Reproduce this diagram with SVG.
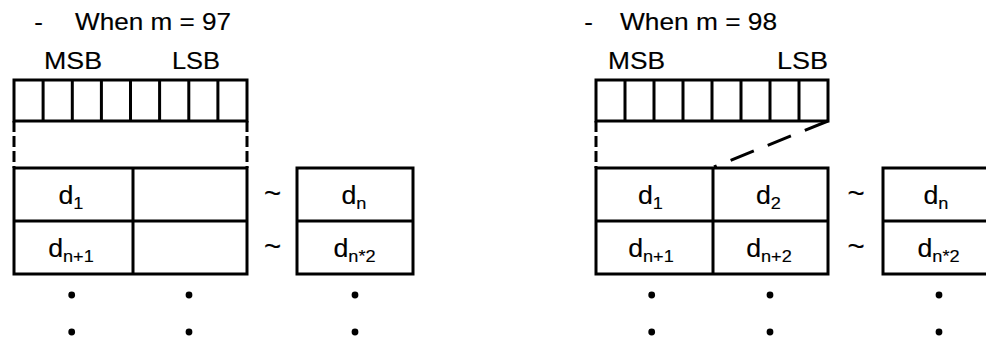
<svg xmlns="http://www.w3.org/2000/svg" width="986" height="340" viewBox="0 0 986 340">
  <style>
    .box { fill: #ffffff; stroke: #000000; stroke-width: 3; }
    .ln { fill: none; stroke: #000000; stroke-width: 3; }
    .dash { fill: none; stroke: #000000; stroke-width: 3; stroke-dasharray: 11 4; }
    .diag { fill: none; stroke: #000000; stroke-width: 3; stroke-dasharray: 25 15; }
    .t { font-family: "Liberation Sans", Arial, sans-serif; font-size: 24px; fill: #000000; stroke: #000000; stroke-width: 0.15; }
    .lbl { font-family: "Liberation Sans", Arial, sans-serif; font-size: 25px; fill: #000000; stroke: #000000; stroke-width: 0.15; }
    .sub { font-size: 17px; }
    .tl { font-family: "Liberation Sans", Arial, sans-serif; font-size: 28px; fill: #000000; stroke: #000000; stroke-width: 0.2; }
    .dot { fill: #000000; }
  </style>
  <rect width="986" height="340" fill="#ffffff"/>

  <!-- Case m = 97 -->
  <g id="title-97">
    <text class="t" text-anchor="middle" transform="translate(38.5,30) scale(1.08,1)">-</text>
    <text class="t" transform="translate(75,30)" textLength="156" lengthAdjust="spacingAndGlyphs">When m = 97</text>
  </g>
  <g id="bits-97">
    <text class="t" transform="translate(44,69)" textLength="58" lengthAdjust="spacingAndGlyphs">MSB</text>
    <text class="t" transform="translate(172,69)" textLength="48" lengthAdjust="spacingAndGlyphs">LSB</text>
    <rect class="box" x="14" y="80" width="233" height="41"/>
    <path class="ln" d="M43.1 80V121M72.3 80V121M101.4 80V121M130.5 80V121M159.6 80V121M188.8 80V121M217.9 80V121"/>
  </g>
  <g id="row-97">
    <rect class="box" x="14" y="168" width="233" height="106"/>
    <path class="ln" d="M14 221H247M133 168V274"/>
    <text class="lbl" text-anchor="middle" transform="translate(71,204) scale(1.07,1)">d<tspan class="sub" dy="5">1</tspan></text>
    <text class="lbl" text-anchor="middle" transform="translate(71,257) scale(1.07,1)">d<tspan class="sub" dy="5">n+1</tspan></text>
  </g>
  <g id="tilde-97">
    <text class="tl" text-anchor="middle" transform="translate(272.5,203) scale(1.05,1)">~</text>
    <text class="tl" text-anchor="middle" transform="translate(272.5,256) scale(1.05,1)">~</text>
  </g>
  <g id="last-97">
    <rect class="box" x="297" y="168" width="116" height="106"/>
    <path class="ln" d="M297 221H413"/>
    <text class="lbl" text-anchor="middle" transform="translate(354,204) scale(1.07,1)">d<tspan class="sub" dy="5">n</tspan></text>
    <text class="lbl" text-anchor="middle" transform="translate(354.5,257) scale(1.07,1)">d<tspan class="sub" dy="5">n*2</tspan></text>
  </g>
  <g id="more-97">
    <circle class="dot" cx="71.7" cy="295" r="3.4"/>
    <circle class="dot" cx="189" cy="295" r="3.4"/>
    <circle class="dot" cx="355" cy="295" r="3.4"/>
    <circle class="dot" cx="71.7" cy="332" r="3.4"/>
    <circle class="dot" cx="189" cy="332" r="3.4"/>
    <circle class="dot" cx="355" cy="332" r="3.4"/>
  </g>

  <!-- Case m = 98 -->
  <g id="title-98">
    <text class="t" text-anchor="middle" transform="translate(588.5,30) scale(1.08,1)">-</text>
    <text class="t" transform="translate(620,30)" textLength="157" lengthAdjust="spacingAndGlyphs">When m = 98</text>
  </g>
  <g id="bits-98">
    <text class="t" transform="translate(608,69)" textLength="57" lengthAdjust="spacingAndGlyphs">MSB</text>
    <text class="t" transform="translate(777,69)" textLength="51" lengthAdjust="spacingAndGlyphs">LSB</text>
    <rect class="box" x="596" y="80" width="232" height="41"/>
    <path class="ln" d="M625 80V121M654 80V121M683 80V121M712 80V121M741 80V121M770 80V121M799 80V121"/>
  </g>
  <g id="row-98">
    <rect class="box" x="596" y="168" width="232" height="106"/>
    <path class="ln" d="M596 221H828M713 168V274"/>
    <text class="lbl" text-anchor="middle" transform="translate(650.5,204) scale(1.07,1)">d<tspan class="sub" dy="5">1</tspan></text>
    <text class="lbl" text-anchor="middle" transform="translate(768.5,204) scale(1.07,1)">d<tspan class="sub" dy="5">2</tspan></text>
    <text class="lbl" text-anchor="middle" transform="translate(651,257) scale(1.07,1)">d<tspan class="sub" dy="5">n+1</tspan></text>
    <text class="lbl" text-anchor="middle" transform="translate(769,257) scale(1.07,1)">d<tspan class="sub" dy="5">n+2</tspan></text>
  </g>
  <g id="tilde-98">
    <text class="tl" text-anchor="middle" transform="translate(856,203) scale(1.05,1)">~</text>
    <text class="tl" text-anchor="middle" transform="translate(856,256) scale(1.05,1)">~</text>
  </g>
  <g id="last-98">
    <rect class="box" x="883" y="168" width="116" height="106"/>
    <path class="ln" d="M883 221H999"/>
    <text class="lbl" text-anchor="middle" transform="translate(936,204) scale(1.07,1)">d<tspan class="sub" dy="5">n</tspan></text>
    <text class="lbl" text-anchor="middle" transform="translate(938.5,257) scale(1.07,1)">d<tspan class="sub" dy="5">n*2</tspan></text>
  </g>
  <g id="more-98">
    <circle class="dot" cx="651.7" cy="295" r="3.4"/>
    <circle class="dot" cx="770" cy="295" r="3.4"/>
    <circle class="dot" cx="939" cy="295" r="3.4"/>
    <circle class="dot" cx="651.7" cy="332" r="3.4"/>
    <circle class="dot" cx="770" cy="332" r="3.4"/>
    <circle class="dot" cx="939" cy="332" r="3.4"/>
  </g>

  <!-- Byte-to-data mapping guides -->
  <g id="connectors">
    <path class="dash" d="M14 121V168"/>
    <path class="dash" d="M247 121V168"/>
    <path class="dash" d="M596 121V168"/>
    <path class="diag" d="M828 121L714 167"/>
  </g>
</svg>
